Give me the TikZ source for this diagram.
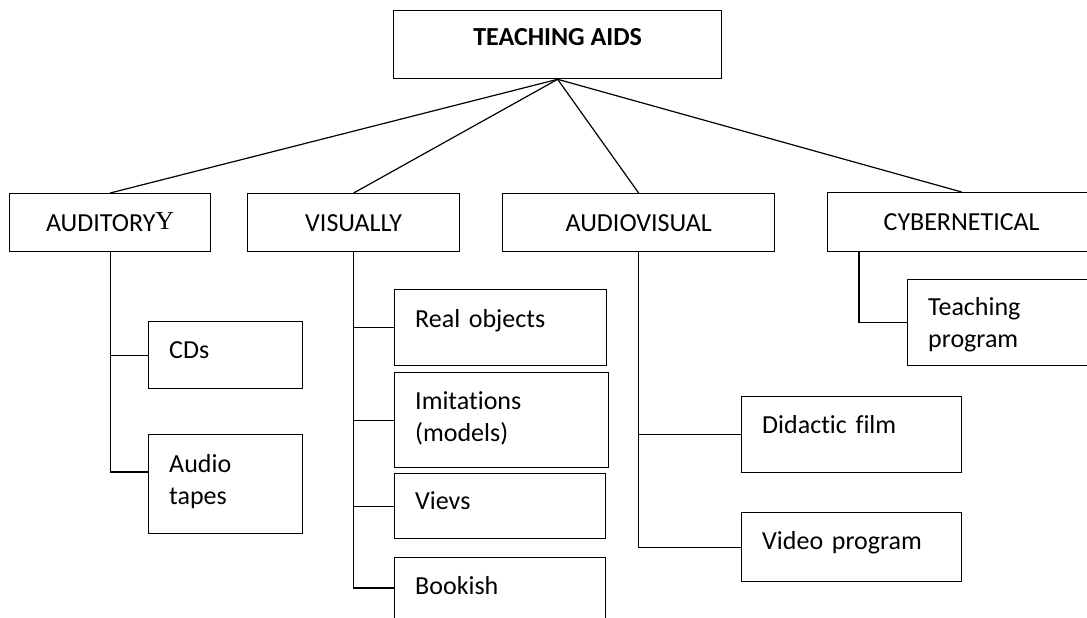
\documentclass[tikz,border=0pt]{standalone}
\usepackage{fontspec}
\setmainfont{Carlito}[Ligatures={NoCommon}]
\newfontfamily\serifY{Liberation Serif}
\usetikzlibrary{calc}
\begin{document}
\begin{tikzpicture}[x=1pt,y=-1pt,
  every node/.style={font=\fontsize{26}{32.5}\selectfont},
  box/.style={draw, line width=1.3pt, inner sep=0pt, anchor=north west},
  head/.style={box, text height=16.7pt, text depth=0pt},
  leaf/.style={inner sep=0pt, anchor=base west, align=left, text width=#1},
  conn/.style={draw, line width=1.2pt}]
\useasboundingbox (0,0) rectangle (1087,618);
\clip (0,0) rectangle (1087,618);
% root
\node[box, minimum width=328pt, minimum height=68pt, text height=17pt, text depth=15pt,
  font=\fontsize{26}{32.5}\selectfont\bfseries] (root) at (393,10) {TEACHING AIDS};
% categories
\node[head, minimum width=201pt, minimum height=58pt] (aud) at (9,193)
  {AUDITORY\raisebox{1.7pt}{\serifY Y}};
\node[head, minimum width=212pt, minimum height=58pt] (vis) at (247,193) {VISUALLY};
\node[head, minimum width=272pt, minimum height=58pt] (av) at (502,193) {AUDIOVISUAL};
\node[head, minimum width=268pt, minimum height=59pt] (cyb) at (827,192) {CYBERNETICAL};
% leaf boxes
\node[box, minimum width=154pt, minimum height=67pt] (cds) at (148,321) {};
\node[box, minimum width=154pt, minimum height=99pt] (tapes) at (148,434) {};
\node[box, minimum width=212pt, minimum height=76pt] (real) at (394,289) {};
\node[box, minimum width=214pt, minimum height=95pt] (imit) at (394,372) {};
\node[box, minimum width=211pt, minimum height=65pt] (vievs) at (394,473) {};
\node[box, minimum width=211pt, minimum height=90pt] (bookish) at (394,557) {};
\node[box, minimum width=220pt, minimum height=76pt] (film) at (741,396) {};
\node[box, minimum width=220pt, minimum height=69pt] (video) at (741,512) {};
\node[box, minimum width=260pt, minimum height=86pt] (teach) at (907,279) {};
% leaf texts
\node[leaf=128pt] (cds-t) at ($(cds.north west)+(21,37)$) {CDs};
\node[leaf=128pt] (tapes-t) at ($(tapes.north west)+(21,38)$) {Audio\\tapes};
\node[leaf=186pt] (real-t) at ($(real.north west)+(21,38)$) {Real objects};
\node[leaf=188pt] (imit-t) at ($(imit.north west)+(21,37)$) {Imitations\\(models)};
\node[leaf=185pt] (vievs-t) at ($(vievs.north west)+(21,36)$) {Vievs};
\node[leaf=185pt] (bookish-t) at ($(bookish.north west)+(21,37)$) {Bookish};
\node[leaf=195pt] (film-t) at ($(film.north west)+(21,37)$) {Didactic film};
\node[leaf=195pt] (video-t) at ($(video.north west)+(21,37)$) {Video program};
\node[leaf=150pt] (teach-t) at ($(teach.north west)+(21,36)$) {Teaching\\program};
% connectors from root
\draw[conn] (root.south) -- (aud.north);
\draw[conn] (root.south) -- (vis.north);
\draw[conn] (root.south) -- (av.north);
\draw[conn] (root.south) -- (cyb.north);
% auditory
\draw[conn] (aud.south) |- ($(tapes.north west)+(0,38)$);
\draw[conn] (aud.south |- cds.west) -- (cds.west);
% visually
\draw[conn] (vis.south) |- ($(bookish.north west)+(0,31)$);
\draw[conn] (vis.south |- real.west) -- (real.west);
\draw[conn] (vis.south |- imit.west) -- (imit.west);
\draw[conn] (vis.south |- vievs.west) -- (vievs.west);
% audiovisual
\draw[conn] (av.south) |- (video.west);
\draw[conn] (av.south |- film.west) -- (film.west);
% cybernetical
\draw[conn] ($(cyb.south west)+(32,0)$) |- (teach.west);
\end{tikzpicture}
\end{document}
